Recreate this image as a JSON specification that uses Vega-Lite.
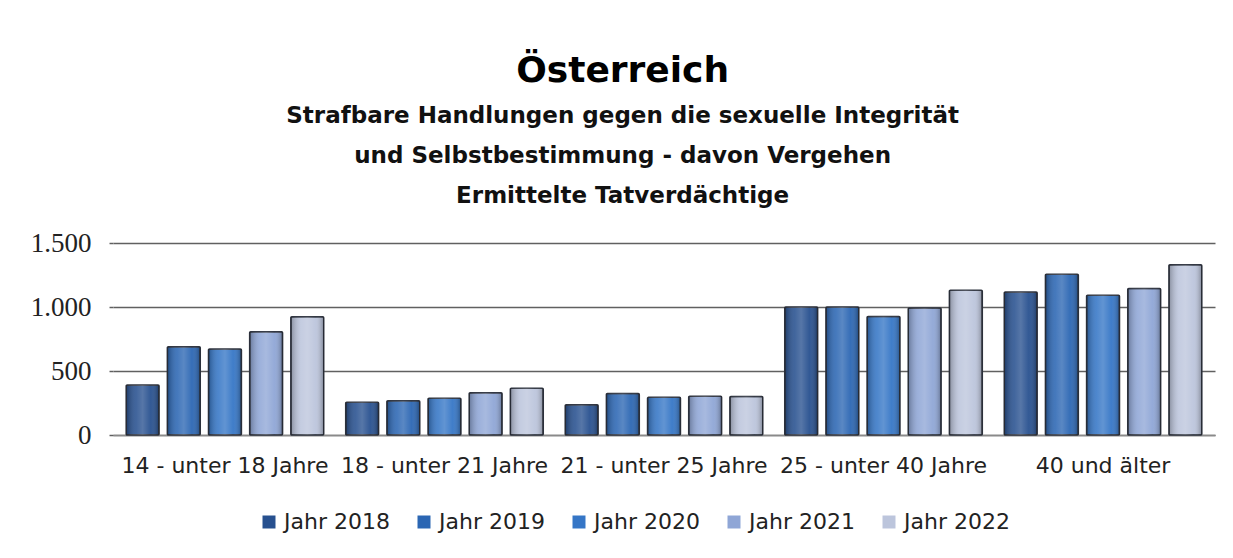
{
  "$schema": "https://vega.github.io/schema/vega-lite/v6.json",
  "width": 1102,
  "height": 192,
  "autosize": {"type": "none"},
  "padding": {"left": 113, "top": 243, "right": 18, "bottom": 123},
  "background": "white",
  "title": {
    "text": "Österreich",
    "subtitle": ["Strafbare Handlungen gegen die sexuelle Integrität", "und Selbstbestimmung - davon Vergehen", "Ermittelte Tatverdächtige"],
    "anchor": "middle",
    "frame": "bounds",
    "font": "DejaVu Sans",
    "fontSize": 36,
    "fontWeight": "bold",
    "color": "#000000",
    "subtitleFont": "DejaVu Sans",
    "subtitleFontSize": 23,
    "subtitleFontWeight": "bold",
    "subtitleColor": "#111111",
    "subtitleLineHeight": 40,
    "subtitlePadding": 15,
    "offset": 20
  },
  "data": {
    "values": [
      {"group": "14 - unter 18 Jahre", "year": "Jahr 2018", "value": 390},
      {"group": "14 - unter 18 Jahre", "year": "Jahr 2019", "value": 690},
      {"group": "14 - unter 18 Jahre", "year": "Jahr 2020", "value": 672},
      {"group": "14 - unter 18 Jahre", "year": "Jahr 2021", "value": 807},
      {"group": "14 - unter 18 Jahre", "year": "Jahr 2022", "value": 924},
      {"group": "18 - unter 21 Jahre", "year": "Jahr 2018", "value": 255},
      {"group": "18 - unter 21 Jahre", "year": "Jahr 2019", "value": 268},
      {"group": "18 - unter 21 Jahre", "year": "Jahr 2020", "value": 287},
      {"group": "18 - unter 21 Jahre", "year": "Jahr 2021", "value": 330},
      {"group": "18 - unter 21 Jahre", "year": "Jahr 2022", "value": 365},
      {"group": "21 - unter 25 Jahre", "year": "Jahr 2018", "value": 237},
      {"group": "21 - unter 25 Jahre", "year": "Jahr 2019", "value": 325},
      {"group": "21 - unter 25 Jahre", "year": "Jahr 2020", "value": 294},
      {"group": "21 - unter 25 Jahre", "year": "Jahr 2021", "value": 302},
      {"group": "21 - unter 25 Jahre", "year": "Jahr 2022", "value": 300},
      {"group": "25 - unter 40 Jahre", "year": "Jahr 2018", "value": 1000},
      {"group": "25 - unter 40 Jahre", "year": "Jahr 2019", "value": 1000},
      {"group": "25 - unter 40 Jahre", "year": "Jahr 2020", "value": 925},
      {"group": "25 - unter 40 Jahre", "year": "Jahr 2021", "value": 992},
      {"group": "25 - unter 40 Jahre", "year": "Jahr 2022", "value": 1130},
      {"group": "40 und älter", "year": "Jahr 2018", "value": 1118},
      {"group": "40 und älter", "year": "Jahr 2019", "value": 1255},
      {"group": "40 und älter", "year": "Jahr 2020", "value": 1092},
      {"group": "40 und älter", "year": "Jahr 2021", "value": 1145},
      {"group": "40 und älter", "year": "Jahr 2022", "value": 1330}
    ]
  },
  "encoding": {
    "x": {
      "field": "group",
      "type": "nominal",
      "sort": null,
      "scale": {"paddingInner": 0.1, "paddingOuter": 0.06},
      "axis": {
        "title": null,
        "labelAngle": 0,
        "ticks": false,
        "labelPadding": 20,
        "labelLimit": 0,
        "labelFont": "DejaVu Sans",
        "labelFontSize": 22,
        "labelColor": "#222222",
        "domain": true,
        "domainColor": "#8a8a8a",
        "domainWidth": 1.5
      }
    },
    "xOffset": {
      "field": "year",
      "type": "nominal",
      "scale": {"paddingInner": 0.2, "paddingOuter": 0}
    },
    "y": {
      "field": "value",
      "type": "quantitative",
      "scale": {"domain": [0, 1500], "nice": false},
      "axis": {
        "title": null,
        "values": [0, 500, 1000, 1500],
        "labelExpr": "replace(format(datum.value, ','), ',', '.')",
        "labelFont": "Liberation Serif",
        "labelFontSize": 27,
        "labelColor": "#222222",
        "labelPadding": 18,
        "domain": false,
        "ticks": true,
        "tickSize": 4,
        "tickColor": "#606060",
        "tickWidth": 1.5,
        "grid": true,
        "gridColor": "#606060",
        "gridWidth": 1.5
      }
    }
  },
  "layer": [
    {
      "mark": {"type": "bar", "stroke": "#2f3440", "strokeWidth": 1.5, "cornerRadius": 1},
      "encoding": {
        "color": {
          "field": "year",
          "type": "nominal",
          "scale": {
            "domain": ["Jahr 2018", "Jahr 2019", "Jahr 2020", "Jahr 2021", "Jahr 2022"],
            "range": ["#27508f", "#2b66b3", "#3576c6", "#8fa6d6", "#bcc5dc"]
          },
          "legend": {
            "title": null,
            "orient": "none",
            "legendX": 145,
            "legendY": 268,
            "direction": "horizontal",
            "symbolType": "square",
            "symbolSize": 169,
            "symbolStrokeWidth": 0,
            "labelFont": "DejaVu Sans",
            "labelFontSize": 22,
            "labelColor": "#222222",
            "labelOffset": 4,
            "columnPadding": 23
          }
        }
      }
    },
    {
      "mark": {
        "type": "bar",
        "fill": {
          "gradient": "linear",
          "x1": 0, "y1": 0, "x2": 1, "y2": 0,
          "stops": [
            {"offset": 0, "color": "rgba(0,0,0,0.28)"},
            {"offset": 0.3, "color": "rgba(255,255,255,0.12)"},
            {"offset": 0.5, "color": "rgba(255,255,255,0.22)"},
            {"offset": 0.75, "color": "rgba(255,255,255,0.05)"},
            {"offset": 1, "color": "rgba(0,0,0,0.3)"}
          ]
        }
      },
      "encoding": {}
    }
  ],
  "config": {
    "view": {"stroke": null},
    "font": "DejaVu Sans"
  }
}
